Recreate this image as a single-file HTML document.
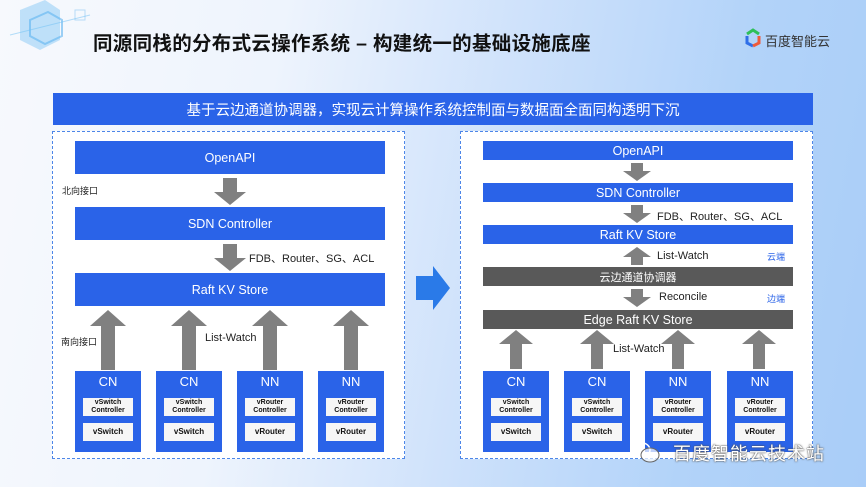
<!DOCTYPE html>
<html><head><meta charset="utf-8"><style>
*{margin:0;padding:0;box-sizing:border-box}
body{width:866px;height:487px;overflow:hidden;position:relative;font-family:"Liberation Sans","Noto Sans CJK SC",sans-serif;
background:linear-gradient(100deg,#f7f9fd 0%,#eef4fd 30%,#cfe2fb 55%,#b2d3f9 80%,#a9cdf8 100%);}
.a{position:absolute}
.panel{position:absolute;background:#fff;border:1.5px dashed #4d86e8}
.bar{position:absolute;background:#2a63e8;color:#fff;display:flex;align-items:center;justify-content:center;font-size:12.5px}
.dark{background:#595959}
.node{position:absolute;background:#2a63e8;width:66px;height:81px}
.node .t{position:absolute;top:3px;width:100%;text-align:center;color:#fff;font-size:13px}
.ib{position:absolute;left:8px;width:50px;background:#f6f6f6;color:#111;font-size:7px;font-weight:bold;text-align:center;display:flex;align-items:center;justify-content:center;line-height:8px}
.lbl{position:absolute;font-size:11px;color:#222;white-space:nowrap}
.cn{position:absolute;font-size:9px;color:#222}
</style></head><body>
<svg class="a" style="left:0;top:0" width="120" height="80">
<path d="M20 10 L45 0 L60 10 L60 40 L40 50 L20 40Z" fill="#7cc3f5" opacity=".45"/>
<path d="M30 20 L48 12 L62 20 L62 36 L45 44 L30 36Z" fill="none" stroke="#5fb4f0" stroke-width="2" opacity=".6"/>
<rect x="75" y="10" width="10" height="10" fill="none" stroke="#8cc8f3" opacity=".6"/>
<line x1="10" y1="35" x2="90" y2="15" stroke="#6fc0f5" opacity=".5"/>
</svg>
<div class="a" style="left:93px;top:27px;font-size:19.5px;font-weight:bold;color:#111;letter-spacing:0.3px">同源同栈的分布式云操作系统 – 构建统一的基础设施底座</div>
<svg class="a" style="left:744px;top:28px" width="18" height="20"><path d="M3 6 L9 2 L15 6" stroke="#2fbf5a" stroke-width="3" fill="none"/><path d="M3 8 L3 15 L9 18" stroke="#2f6fe8" stroke-width="3" fill="none"/><path d="M15 8 L15 15 L9 18" stroke="#ef5a3a" stroke-width="3" fill="none"/></svg>
<div class="a" style="left:765px;top:31px;font-size:13px;color:#333">百度智能云</div>

<div class="bar" style="left:53px;top:93px;width:760px;height:32px;font-size:14.5px">基于云边通道协调器，实现云计算操作系统控制面与数据面全面同构透明下沉</div>

<div class="panel" style="left:52px;top:131px;width:353px;height:328px"></div>
<div class="panel" style="left:460px;top:131px;width:353px;height:328px"></div>

<div class="bar" style="left:75px;top:141px;width:310px;height:33px">OpenAPI</div>
<div class="bar" style="left:75px;top:207px;width:310px;height:33px">SDN Controller</div>
<div class="bar" style="left:75px;top:273px;width:310px;height:33px">Raft KV Store</div>
<div class="cn" style="left:62px;top:184px">北向接口</div>
<div class="cn" style="left:61px;top:335px">南向接口</div>
<div class="lbl" style="left:249px;top:250px">FDB、Router、SG、ACL</div>
<div class="lbl" style="left:205px;top:332px">List-Watch</div>

<div class="bar" style="left:483px;top:141px;width:310px;height:19px">OpenAPI</div>
<div class="bar" style="left:483px;top:183px;width:310px;height:19px">SDN Controller</div>
<div class="bar" style="left:483px;top:225px;width:310px;height:19px">Raft KV Store</div>
<div class="bar dark" style="left:483px;top:267px;width:310px;height:19px;font-size:11px">云边通道协调器</div>
<div class="bar dark" style="left:483px;top:310px;width:310px;height:19px">Edge Raft KV Store</div>
<div class="lbl" style="left:657px;top:208px">FDB、Router、SG、ACL</div>
<div class="lbl" style="left:657px;top:250px">List-Watch</div>
<div class="lbl" style="left:659px;top:291px">Reconcile</div>
<div class="lbl" style="left:613px;top:343px">List-Watch</div>
<div class="cn" style="left:767px;top:250px;color:#2a63e8">云端</div>
<div class="cn" style="left:767px;top:292px;color:#2a63e8">边端</div>

<svg class="a" style="left:0;top:0" width="866" height="487">
<g fill="#808080">
<path d="M223 178h14v14h9l-16 13-16-13h9z"/>
<path d="M223 244h14v14h9l-16 13-16-13h9z"/>
<path d="M101 370v-44h-11l18-16 18 16h-11v44z"/>
<path d="M182 370v-44h-11l18-16 18 16h-11v44z"/>
<path d="M263 370v-44h-11l18-16 18 16h-11v44z"/>
<path d="M344 370v-44h-11l18-16 18 16h-11v44z"/>
<path d="M631 163h12v8h8l-14 10-14-10h8z"/>
<path d="M631 205h12v8h8l-14 10-14-10h8z"/>
<path d="M631 265v-8h-8l14-10 14 10h-8v8z"/>
<path d="M631 289h12v8h8l-14 10-14-10h8z"/>
<path d="M510 369v-25h-11l17-14 17 14h-11v25z"/>
<path d="M591 369v-25h-11l17-14 17 14h-11v25z"/>
<path d="M672 369v-25h-11l17-14 17 14h-11v25z"/>
<path d="M753 369v-25h-11l17-14 17 14h-11v25z"/>
</g>
<path d="M416 276h17v-10l17 22-17 22v-10h-17z" fill="#2a7ae8"/>
</svg>

<div class="node" style="left:75px;top:371px"><div class="t">CN</div><div class="ib" style="top:27px;height:18px">vSwitch<br>Controller</div><div class="ib" style="top:52px;height:18px;font-size:8px">vSwitch</div></div>
<div class="node" style="left:156px;top:371px"><div class="t">CN</div><div class="ib" style="top:27px;height:18px">vSwitch<br>Controller</div><div class="ib" style="top:52px;height:18px;font-size:8px">vSwitch</div></div>
<div class="node" style="left:237px;top:371px"><div class="t">NN</div><div class="ib" style="top:27px;height:18px">vRouter<br>Controller</div><div class="ib" style="top:52px;height:18px;font-size:8px">vRouter</div></div>
<div class="node" style="left:318px;top:371px"><div class="t">NN</div><div class="ib" style="top:27px;height:18px">vRouter<br>Controller</div><div class="ib" style="top:52px;height:18px;font-size:8px">vRouter</div></div>
<div class="node" style="left:483px;top:371px"><div class="t">CN</div><div class="ib" style="top:27px;height:18px">vSwitch<br>Controller</div><div class="ib" style="top:52px;height:18px;font-size:8px">vSwitch</div></div>
<div class="node" style="left:564px;top:371px"><div class="t">CN</div><div class="ib" style="top:27px;height:18px">vSwitch<br>Controller</div><div class="ib" style="top:52px;height:18px;font-size:8px">vSwitch</div></div>
<div class="node" style="left:645px;top:371px"><div class="t">NN</div><div class="ib" style="top:27px;height:18px">vRouter<br>Controller</div><div class="ib" style="top:52px;height:18px;font-size:8px">vRouter</div></div>
<div class="node" style="left:727px;top:371px"><div class="t">NN</div><div class="ib" style="top:27px;height:18px">vRouter<br>Controller</div><div class="ib" style="top:52px;height:18px;font-size:8px">vRouter</div></div>

<svg class="a" style="left:632px;top:440px" width="30" height="26"><ellipse cx="10" cy="10" rx="8" ry="7" fill="none" stroke="#fff" stroke-width="1.5"/><ellipse cx="18" cy="15" rx="9" ry="7" fill="rgba(255,255,255,.7)" stroke="#666" stroke-width="1"/></svg>
<div class="a" style="left:673px;top:440px;font-size:18px;color:#fff;text-shadow:0 0 2px #555,0 0 1px #333;letter-spacing:1px">百度智能云技术站</div>
</body></html>
